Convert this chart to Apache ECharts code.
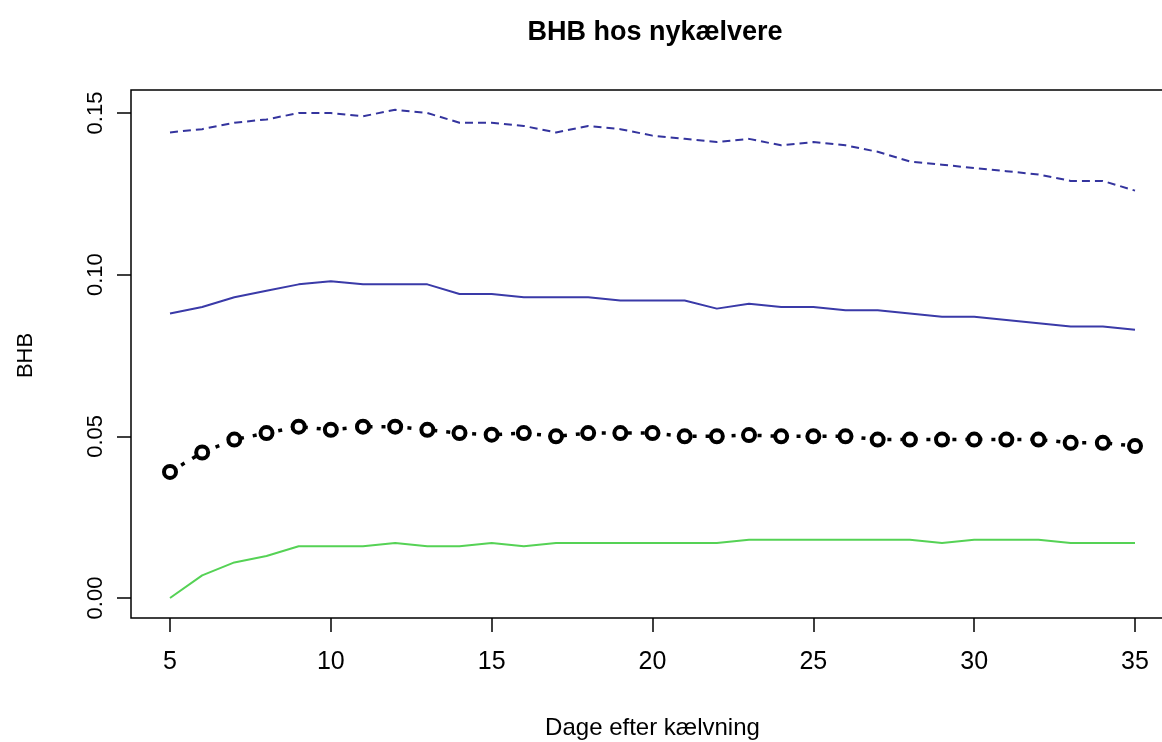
<!DOCTYPE html>
<html>
<head>
<meta charset="utf-8">
<script src="https://cdn.jsdelivr.net/npm/echarts@6/dist/echarts.min.js"></script>
<style>
html,body{margin:0;padding:0;background:#fff;}
#chart{width:1162px;height:742px;}
</style>
</head>
<body>
<div id="chart"></div>
<script>
const days = [5,6,7,8,9,10,11,12,13,14,15,16,17,18,19,20,21,22,23,24,25,26,27,28,29,30,31,32,33,34,35];
const upperDashed = [0.144,0.145,0.147,0.148,0.150,0.150,0.149,0.151,0.150,0.147,0.147,0.146,0.144,0.146,0.145,0.143,0.142,0.141,0.142,0.140,0.141,0.140,0.138,0.135,0.134,0.133,0.132,0.131,0.129,0.129,0.126];
const blueSolid = [0.088,0.090,0.093,0.095,0.097,0.098,0.097,0.097,0.097,0.094,0.094,0.093,0.093,0.093,0.092,0.092,0.092,0.0895,0.091,0.090,0.090,0.089,0.089,0.088,0.087,0.087,0.086,0.085,0.084,0.084,0.083];
const blackPoints = [0.039,0.045,0.049,0.051,0.053,0.052,0.053,0.053,0.052,0.051,0.0505,0.051,0.050,0.051,0.051,0.051,0.050,0.050,0.0504,0.050,0.050,0.050,0.049,0.049,0.049,0.049,0.049,0.049,0.048,0.048,0.047];
const greenLow = [0.000,0.007,0.011,0.013,0.016,0.016,0.016,0.017,0.016,0.016,0.017,0.016,0.017,0.017,0.017,0.017,0.017,0.017,0.018,0.018,0.018,0.018,0.018,0.018,0.017,0.018,0.018,0.018,0.017,0.017,0.017];
const xTicks = [5,10,15,20,25,30,35];
const yTicks = [0.00,0.05,0.10,0.15];

const pair = arr => days.map((d,i)=>[d,arr[i]]);
const chart = echarts.init(document.getElementById('chart'), null, {renderer:'canvas'});
const FONT = "'Liberation Sans', Arial, sans-serif";
chart.setOption({
  animation:false,
  backgroundColor:'#ffffff',
  title:{
    text:'BHB hos nykælvere',
    left:650, top:14, textAlign:'center',
    textStyle:{fontFamily:FONT, fontWeight:'bold', fontSize:27, color:'#000'}
  },
  graphic:[{
    type:'rect', z:-1, silent:true,
    shape:{x:131, y:90, width:1043, height:528},
    style:{fill:null, stroke:'#000', lineWidth:1.5}
  }],
  grid:{left:170, top:113, width:965, height:485, containLabel:false, outerBoundsMode:'none'},
  xAxis:{
    type:'value', min:xTicks[0], max:xTicks[xTicks.length-1], interval:5,
    offset:20,
    axisLine:{show:false, onZero:false},
    axisTick:{show:true, length:14, lineStyle:{color:'#000', width:1.5}},
    splitLine:{show:false},
    axisLabel:{margin:32, fontFamily:FONT, fontSize:25, color:'#000',
      formatter:v=>xTicks.includes(v)?String(v):''},
    name:'Dage efter kælvning', nameLocation:'middle', nameGap:98,
    nameTextStyle:{fontFamily:FONT, fontSize:24, color:'#000'}
  },
  yAxis:{
    type:'value', min:yTicks[0], max:yTicks[yTicks.length-1], interval:0.05,
    offset:39,
    axisLine:{show:false, onZero:false},
    axisTick:{show:true, length:14, lineStyle:{color:'#000', width:1.5}},
    splitLine:{show:false},
    axisLabel:{margin:24, rotate:90, fontFamily:FONT, fontSize:22, color:'#000',
      formatter:v=>v.toFixed(2)},
    name:'BHB', nameLocation:'middle', nameGap:94,
    nameTextStyle:{fontFamily:FONT, fontSize:22, color:'#000'}
  },
  series:[
    {type:'line', data:pair(upperDashed), symbol:'none', clip:false,
     lineStyle:{color:'#34349e', width:2, type:[8,5]}},
    {type:'line', data:pair(blueSolid), symbol:'none', clip:false,
     lineStyle:{color:'#3a3aa8', width:2}},
    {type:'line', data:pair(greenLow), symbol:'none', clip:false,
     lineStyle:{color:'#55d255', width:2}},
    {type:'line', data:pair(blackPoints), clip:false,
     symbol:'circle', symbolSize:12,
     itemStyle:{color:'#ffffff', borderColor:'#000', borderWidth:4},
     lineStyle:{color:'#000', width:3.5, type:[4,9]}, z:5}
  ]
});
</script>
</body>
</html>
